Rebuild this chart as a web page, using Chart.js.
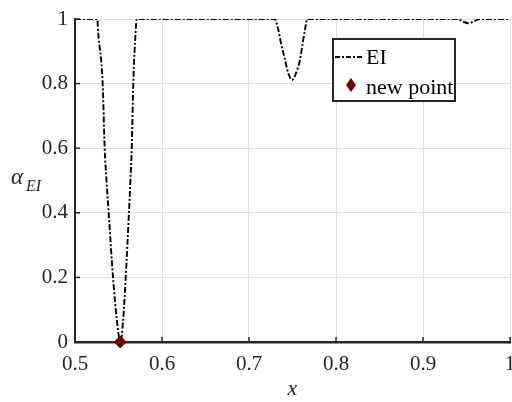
<!DOCTYPE html>
<html>
<head>
<meta charset="utf-8">
<script src="https://cdn.jsdelivr.net/npm/chart.js@4/dist/chart.umd.min.js"></script>
<style>
  html, body { margin: 0; padding: 0; background: #fff; }
  #wrap { width: 512px; height: 402px; }
</style>
</head>
<body>
<div id="wrap"><canvas id="eiChart" width="512" height="402"></canvas></div>
<script>
// EI acquisition curve over x
const xVals = [0.5, 0.52, 0.5256, 0.5266, 0.5318, 0.5341, 0.5362, 0.5387, 0.5437, 0.5483, 0.5522,
  0.5552, 0.5583, 0.5620, 0.5637, 0.5652, 0.5670, 0.5697, 0.5710, 0.58,
  0.72, 0.7295, 0.7337, 0.7368, 0.7414, 0.7452, 0.7494, 0.7540, 0.7586, 0.7617, 0.7643, 0.7670, 0.78,
  0.93, 0.9399, 0.946, 0.9521, 0.959, 0.9652, 0.98, 1.0];
const eiVals = [1, 1, 1, 0.96, 0.8, 0.6, 0.5, 0.4, 0.2, 0.063, 0,
  0.063, 0.2, 0.4, 0.5, 0.6, 0.8, 0.96, 1, 1,
  1, 1, 0.966, 0.925, 0.873, 0.832, 0.811, 0.832, 0.873, 0.925, 0.966, 1, 1,
  1, 1, 0.992, 0.987, 0.993, 1, 1, 1];

// chosen next sample
const newPointX = [0.552];
const newPointY = [0];

const xTicks = [0.5, 0.6, 0.7, 0.8, 0.9, 1];
const xTickLabels = ['0.5', '0.6', '0.7', '0.8', '0.9', '1'];
const yTicks = [0, 0.2, 0.4, 0.6, 0.8, 1];
const yTickLabels = ['0', '0.2', '0.4', '0.6', '0.8', '1'];

const FONT = "'Liberation Serif', 'Times New Roman', serif";
const INK = '#262626';
const MARK = '#6e0000';

// inward tick marks, axis labels and boxed legend
const decorations = {
  id: 'decorations',
  afterDraw(chart) {
    const ctx = chart.ctx;
    const xs = chart.scales.x, ys = chart.scales.y;
    const area = chart.chartArea;
    ctx.save();
    ctx.strokeStyle = INK;
    ctx.lineWidth = 1.5;
    xs.ticks.forEach((t, i) => {
      const px = xs.getPixelForTick(i);
      ctx.beginPath(); ctx.moveTo(px, area.bottom); ctx.lineTo(px, area.bottom - 5); ctx.stroke();
    });
    ys.ticks.forEach((t, i) => {
      const py = ys.getPixelForTick(i);
      ctx.beginPath(); ctx.moveTo(area.left, py); ctx.lineTo(area.left + 5, py); ctx.stroke();
    });

    // y-axis label: alpha with EI subscript
    ctx.fillStyle = INK;
    ctx.textBaseline = 'alphabetic';
    ctx.textAlign = 'left';
    ctx.font = 'italic 23px ' + FONT;
    ctx.fillText('\u03b1', 11, 184);
    ctx.font = 'italic 16px ' + FONT;
    ctx.fillText('EI', 26, 191);

    // legend box
    const bx = 333, by = 39, bw = 122, bh = 62;
    ctx.fillStyle = '#fff';
    ctx.fillRect(bx, by, bw, bh);
    ctx.lineWidth = 2;
    ctx.strokeStyle = INK;
    ctx.strokeRect(bx, by, bw, bh);

    ctx.setLineDash([5, 2, 2, 2]);
    ctx.lineWidth = 1.8;
    ctx.strokeStyle = '#000';
    ctx.beginPath(); ctx.moveTo(bx + 2, by + 18); ctx.lineTo(bx + 31, by + 18); ctx.stroke();
    ctx.setLineDash([]);

    ctx.fillStyle = MARK;
    const dx = bx + 18, dy = by + 46;
    ctx.beginPath();
    ctx.moveTo(dx, dy - 7); ctx.lineTo(dx + 5, dy); ctx.lineTo(dx, dy + 7); ctx.lineTo(dx - 5, dy);
    ctx.closePath(); ctx.fill();

    ctx.fillStyle = '#000';
    ctx.font = '22px ' + FONT;
    ctx.fillText('EI', bx + 33, by + 25);
    ctx.fillText('new point', bx + 33, by + 55);
    ctx.restore();
  }
};

new Chart(document.getElementById('eiChart'), {
  type: 'scatter',
  data: {
    datasets: [{
      label: 'EI',
      data: xVals.map((x, i) => ({ x: x, y: eiVals[i] })),
      showLine: true,
      borderColor: '#000',
      borderWidth: 1.9,
      borderDash: [6, 2, 2, 2],
      pointRadius: 0,
      cubicInterpolationMode: 'monotone',
      fill: false,
      order: 2
    }, {
      label: 'new point',
      data: newPointX.map((x, i) => ({ x: x, y: newPointY[i] })),
      pointStyle: 'rectRot',
      pointRadius: 6,
      backgroundColor: MARK,
      borderColor: MARK,
      borderWidth: 1,
      clip: false,
      order: 1
    }]
  },
  options: {
    responsive: false,
    animation: false,
    devicePixelRatio: 1,
    layout: { autoPadding: false, padding: { left: 0, top: 19, right: 2, bottom: 0 } },
    plugins: { legend: { display: false }, tooltip: { enabled: false } },
    scales: {
      x: {
        type: 'linear',
        min: 0.5, max: 1,
        afterBuildTicks: s => { s.ticks = xTicks.map(v => ({ value: v })); },
        afterFit: s => { s.height = 60; s.paddingLeft = 0; s.paddingRight = 0; },
        ticks: {
          callback: (v) => xTickLabels[xTicks.indexOf(v)],
          color: INK, padding: 10, maxRotation: 0,
          font: { family: FONT, size: 21 }
        },
        grid: { color: '#dedede', lineWidth: 1, drawTicks: false },
        border: { color: INK, width: 2.5 },
        title: {
          display: true, text: 'x', color: INK, padding: { top: 5, bottom: 0 },
          font: { family: FONT, size: 22, style: 'italic' }
        }
      },
      y: {
        type: 'linear',
        min: 0, max: 1,
        afterBuildTicks: s => { s.ticks = yTicks.map(v => ({ value: v })); },
        afterFit: s => { s.width = 75; s.paddingTop = 0; s.paddingBottom = 0; },
        ticks: {
          callback: (v) => yTickLabels[yTicks.indexOf(v)],
          color: INK, padding: 7,
          font: { family: FONT, size: 21 }
        },
        grid: { color: '#dedede', lineWidth: 1, drawTicks: false },
        border: { color: INK, width: 2 }
      }
    }
  },
  plugins: [decorations]
});
</script>
</body>
</html>
